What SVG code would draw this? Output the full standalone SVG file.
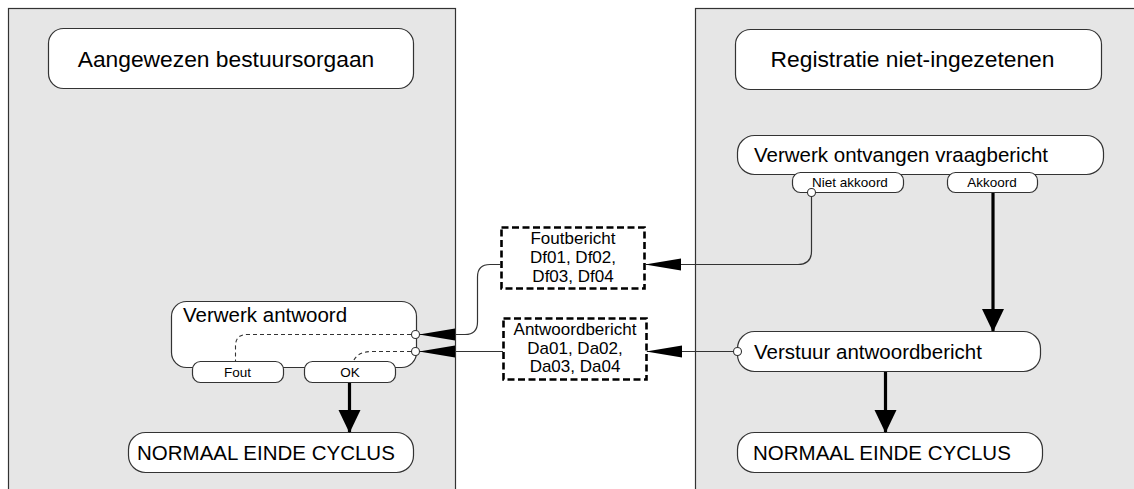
<svg xmlns="http://www.w3.org/2000/svg" width="1134" height="489" viewBox="0 0 1134 489">
<style>
text{font-family:"Liberation Sans",Arial,sans-serif;fill:#000}
.lane{fill:#e6e6e6;stroke:#333;stroke-width:1.2}
.box{fill:#fff;stroke:#333;stroke-width:1.2}
.msg{fill:#fff;stroke:#000;stroke-width:2.6;stroke-dasharray:7 3.5}
.t22{font-size:22.8px}
.t20{font-size:20.5px}
.t16{font-size:17px}
.t13{font-size:13.5px}
.thin{fill:none;stroke:#333;stroke-width:1.2}
.thick{fill:none;stroke:#000;stroke-width:3.2}
.dash{fill:none;stroke:#333;stroke-width:1.1;stroke-dasharray:4 3}
.port{fill:#fff;stroke:#333;stroke-width:1.1}
</style>
<defs>
<marker id="aThin" markerUnits="userSpaceOnUse" markerWidth="36" markerHeight="14" viewBox="0 0 36 14" refX="35" refY="7" orient="auto"><path d="M0,1 L36,7 L0,13 Z" fill="#000"/></marker>
<marker id="aThick" markerUnits="userSpaceOnUse" markerWidth="24" markerHeight="26" viewBox="0 0 26 24" refX="24" refY="12" orient="auto"><path d="M0,0 L25,12 L0,24 Z" fill="#000"/></marker>
</defs>
<g id="lane-left"><rect class="lane" x="8.5" y="8.5" width="447" height="490"/></g>
<g id="lane-right"><rect class="lane" x="695.5" y="8.5" width="450" height="490"/></g>
<g id="title-left"><rect class="box" x="48.5" y="28.5" width="365" height="60" rx="15"/><text class="t22" x="226" y="67" text-anchor="middle">Aangewezen bestuursorgaan</text></g>
<g id="title-right"><rect class="box" x="735.5" y="29.5" width="366" height="60" rx="15"/><text class="t22" x="912.5" y="67" text-anchor="middle">Registratie niet-ingezetenen</text></g>
<g id="verwerk-vraag"><rect class="box" x="737.5" y="135.5" width="366" height="39" rx="17"/><text class="t20" x="754" y="162">Verwerk ontvangen vraagbericht</text>
<rect class="box" x="792.5" y="172.5" width="111" height="20" rx="8"/><text class="t13" x="850" y="187" text-anchor="middle">Niet akkoord</text>
<rect class="box" x="947.5" y="172.5" width="90" height="20" rx="8"/><text class="t13" x="992" y="187" text-anchor="middle">Akkoord</text></g>
<g id="verstuur"><rect class="box" x="737.5" y="331.5" width="303" height="40" rx="17"/><text class="t20" x="754" y="359">Verstuur antwoordbericht</text></g>
<g id="einde-right"><rect class="box" x="737.5" y="432.5" width="305" height="40" rx="17"/><text class="t20" x="753" y="460">NORMAAL EINDE CYCLUS</text></g>
<g id="foutbericht"><rect class="msg" x="501.5" y="227.5" width="143" height="61"/><text class="t16" text-anchor="middle"><tspan x="573" y="244">Foutbericht</tspan><tspan x="573" y="263">Df01, Df02,</tspan><tspan x="573" y="282">Df03, Df04</tspan></text></g>
<g id="antwoordbericht"><rect class="msg" x="503.5" y="318.5" width="143" height="61"/><text class="t16" text-anchor="middle"><tspan x="575" y="335">Antwoordbericht</tspan><tspan x="575" y="354">Da01, Da02,</tspan><tspan x="575" y="372">Da03, Da04</tspan></text></g>
<g id="verwerk-antwoord"><rect class="box" x="171.5" y="301.5" width="245" height="66" rx="15"/><text class="t20" x="183" y="322">Verwerk antwoord</text>
<path class="dash" d="M411,334.5 H247 Q235.5,334.5 235.5,346 V362"/>
<path class="dash" d="M411,351.5 H372 Q357,351.5 353,362"/>
<rect class="box" x="192.5" y="361.5" width="91" height="21" rx="8"/><text class="t13" x="237.5" y="377" text-anchor="middle">Fout</text>
<rect class="box" x="304.5" y="361.5" width="91" height="21" rx="8"/><text class="t13" x="350" y="377" text-anchor="middle">OK</text></g>
<g id="einde-left"><rect class="box" x="128.5" y="432.5" width="285" height="40" rx="17"/><text class="t20" x="137" y="460">NORMAAL EINDE CYCLUS</text></g>
<g id="connectors">
<path class="thin" d="M811.5,196 V251 Q811.5,264.5 798,264.5 H646" marker-end="url(#aThin)"/>
<path class="thin" d="M501,264.5 H490 Q477.5,264.5 477.5,277 V322 Q477.5,334.5 465,334.5 H420" marker-end="url(#aThin)"/>
<path class="thin" d="M733,351.5 H647" marker-end="url(#aThin)"/>
<path class="thin" d="M503,351.5 H420" marker-end="url(#aThin)"/>
<path class="thick" d="M993,193 V331" marker-end="url(#aThick)"/>
<path class="thick" d="M885.5,372 V432" marker-end="url(#aThick)"/>
<path class="thick" d="M349.5,383 V432" marker-end="url(#aThick)"/>
<circle class="port" cx="811.5" cy="192.5" r="4"/>
<circle class="port" cx="737.5" cy="351.5" r="4"/>
<circle class="port" cx="415.5" cy="334.5" r="4"/>
<circle class="port" cx="415.5" cy="351.5" r="4"/>
</g>
</svg>
